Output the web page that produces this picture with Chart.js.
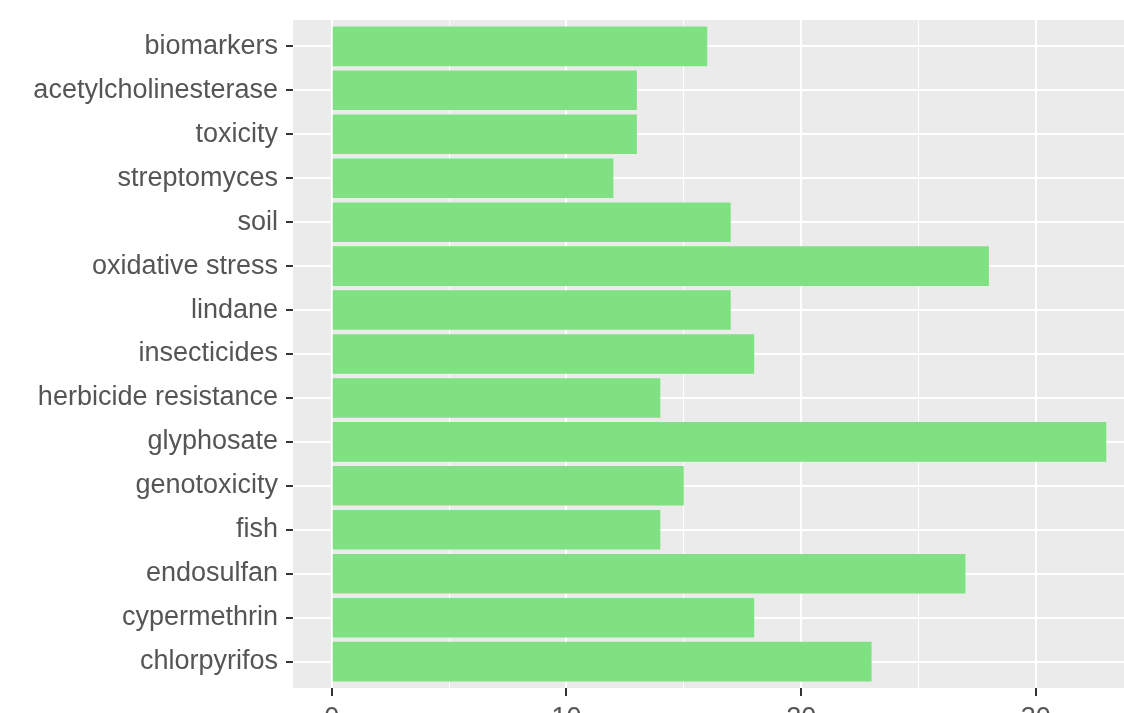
<!DOCTYPE html>
<html>
<head>
<meta charset="utf-8">
<script src="https://cdn.jsdelivr.net/npm/chart.js@4.4.1/dist/chart.umd.min.js"></script>
<style>
  html, body { margin: 0; padding: 0; background: #ffffff; overflow: hidden; width: 1124px; height: 713px; }
  canvas { display: block; }
</style>
</head>
<body>
<canvas id="c" width="1145" height="740"></canvas>
<script>
// Categories from top to bottom
const categories = [
  "biomarkers", "acetylcholinesterase", "toxicity", "streptomyces", "soil",
  "oxidative stress", "lindane", "insecticides", "herbicide resistance",
  "glyphosate", "genotoxicity", "fish", "endosulfan", "cypermethrin", "chlorpyrifos"
];
const counts = [16, 13, 13, 12, 17, 28, 17, 18, 14, 33, 15, 14, 27, 18, 23];
const xMajorTicks = [0, 10, 20, 30];
const xMinorTicks = [5, 15, 25];

const barData = categories.map((c, i) => ({ x: counts[i], y: i + 1 }));
const allXTicks = xMajorTicks.concat(xMinorTicks).sort((a, b) => a - b);

const panelBg = {
  id: 'panelBg',
  beforeDraw(chart) {
    const a = chart.chartArea, ctx = chart.ctx;
    ctx.save();
    ctx.fillStyle = '#EBEBEB';
    ctx.fillRect(a.left, a.top, a.right - a.left, a.bottom - a.top);
    ctx.restore();
  }
};

const font = { family: "'Liberation Sans', Arial, sans-serif", size: 27 };
const isMajor = v => xMajorTicks.indexOf(v) !== -1;

new Chart(document.getElementById('c'), {
  type: 'bar',
  data: {
    datasets: [{
      data: barData,
      backgroundColor: '#80E183',
      borderWidth: 0,
      barPercentage: 0.9,
      categoryPercentage: 1.0
    }]
  },
  options: {
    indexAxis: 'y',
    responsive: false,
    devicePixelRatio: 1,
    animation: false,
    layout: { padding: { top: 20, right: 0, left: 0, bottom: 0 } },
    plugins: { legend: { display: false }, tooltip: { enabled: false }, title: { display: false } },
    scales: {
      x: {
        type: 'linear',
        min: -1.65,
        max: 34.65,
        offset: false,
        afterBuildTicks: s => { s.ticks = allXTicks.map(v => ({ value: v })); },
        afterFit: s => { s.height = 740 - 688; s.paddingLeft = 0; s.paddingRight = 0; },
        border: { display: false },
        grid: {
          offset: false,
          color: '#FFFFFF',
          lineWidth: c => (c.tick && isMajor(c.tick.value)) ? 2 : 1,
          tickColor: c => (c.tick && isMajor(c.tick.value)) ? '#333333' : 'rgba(0,0,0,0)',
          tickWidth: 2,
          tickLength: 8
        },
        ticks: {
          autoSkip: false,
          maxRotation: 0,
          color: '#555555',
          font: font,
          padding: 6,
          callback: v => isMajor(v) ? String(v) : ''
        }
      },
      y: {
        type: 'linear',
        min: 0.4,
        max: 15.6,
        reverse: true,
        offset: false,
        afterBuildTicks: s => { s.ticks = categories.map((c, i) => ({ value: i + 1 })); },
        afterFit: s => { s.width = 293; s.paddingTop = 0; s.paddingBottom = 0; },
        border: { display: false },
        grid: {
          offset: false,
          color: '#FFFFFF',
          lineWidth: 2,
          tickColor: '#333333',
          tickWidth: 2,
          tickLength: 7
        },
        ticks: {
          autoSkip: false,
          color: '#555555',
          font: font,
          padding: 8,
          callback: v => categories[Math.round(v) - 1]
        }
      }
    }
  },
  plugins: [panelBg]
});
</script>
</body>
</html>
